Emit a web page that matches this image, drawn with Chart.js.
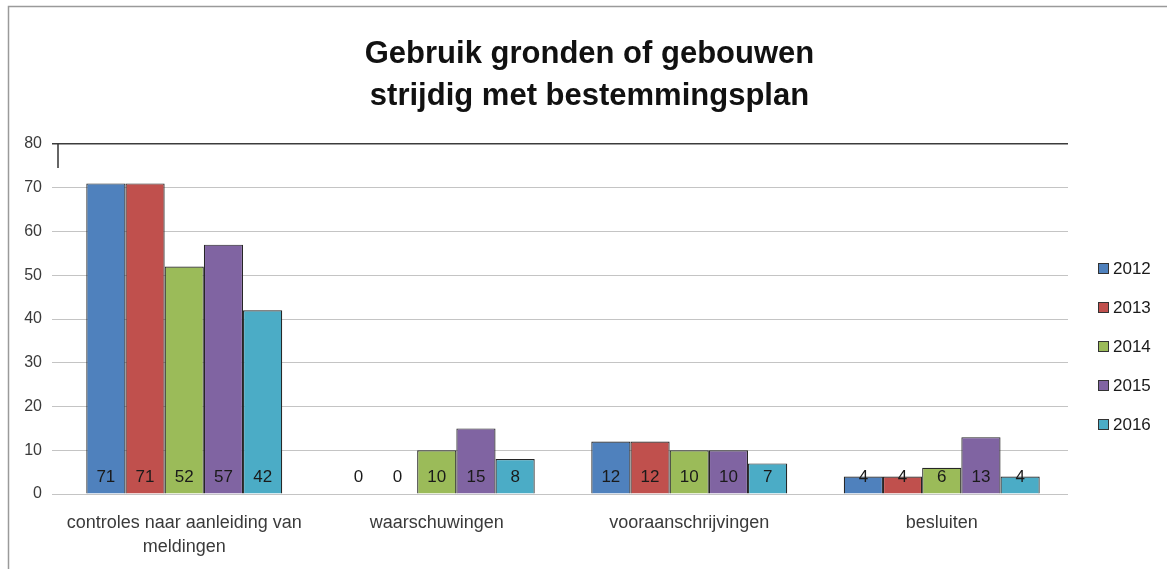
<!DOCTYPE html>
<html>
<head>
<meta charset="utf-8">
<script src="https://cdn.jsdelivr.net/npm/chart.js@4/dist/chart.umd.min.js"></script>
<style>
  html, body { margin: 0; padding: 0; background: #ffffff; }
  #wrap { position: relative; width: 1167px; height: 569px; }
</style>
</head>
<body>
<div id="wrap"><canvas id="c" width="1167" height="569"></canvas></div>
<script>
const titleLines = ['Gebruik gronden of gebouwen', 'strijdig met bestemmingsplan'];
const categories = [['controles naar aanleiding van', 'meldingen'], 'waarschuwingen', 'vooraanschrijvingen', 'besluiten'];
const seriesNames = ['2012', '2013', '2014', '2015', '2016'];
const values2012 = [71, 0, 12, 4];
const values2013 = [71, 0, 12, 4];
const values2014 = [52, 10, 10, 6];
const values2015 = [57, 15, 10, 13];
const values2016 = [42, 8, 7, 4];
const yTicks = [0, 10, 20, 30, 40, 50, 60, 70, 80];
const seriesColors = ['#4F81BD', '#C0504D', '#9BBB59', '#8064A2', '#4BACC6'];

const allValues = [values2012, values2013, values2014, values2015, values2016];

const frame = {
  id: 'frame',
  beforeDraw(chart) {
    const ctx = chart.ctx;
    ctx.save();
    ctx.fillStyle = '#ffffff';
    ctx.fillRect(0, 0, chart.width, chart.height);
    ctx.strokeStyle = '#9a9a9a';
    ctx.lineWidth = 1.5;
    ctx.beginPath();
    ctx.moveTo(8.5, chart.height);
    ctx.lineTo(8.5, 6.5);
    ctx.lineTo(chart.width, 6.5);
    ctx.stroke();
    ctx.restore();
  },
  afterDraw(chart) {
    const ctx = chart.ctx;
    const a = chart.chartArea;
    ctx.save();
    // title
    ctx.fillStyle = '#111111';
    ctx.font = 'bold 31px "Liberation Sans", sans-serif';
    ctx.textAlign = 'center';
    ctx.textBaseline = 'alphabetic';
    const cx = chart.width / 2 + 6;
    ctx.fillText(titleLines[0], cx, 63);
    ctx.fillText(titleLines[1], cx, 105);
    // small axis stub at top-left
    ctx.strokeStyle = '#333333';
    ctx.lineWidth = 1.5;
    ctx.beginPath();
    ctx.moveTo(a.left, a.top);
    ctx.lineTo(a.left, a.top + 24);
    ctx.stroke();
    // legend
    ctx.font = '17px "Liberation Sans", sans-serif';
    ctx.textAlign = 'left';
    ctx.textBaseline = 'middle';
    chart.data.datasets.forEach((ds, i) => {
      const y = 269 + i * 39;
      ctx.fillStyle = ds.backgroundColor;
      ctx.fillRect(1098, y - 6, 11, 11);
      ctx.strokeStyle = '#333333';
      ctx.lineWidth = 1;
      ctx.strokeRect(1098.5, y - 5.5, 10, 10);
      ctx.fillStyle = '#1a1a1a';
      ctx.fillText(ds.label, 1113, y);
    });
    // data labels at inside base
    const yScale = chart.scales.y;
    ctx.font = '17px "Liberation Sans", sans-serif';
    ctx.textAlign = 'center';
    ctx.textBaseline = 'middle';
    ctx.fillStyle = '#1a1a1a';
    chart.data.datasets.forEach((ds, i) => {
      const meta = chart.getDatasetMeta(i);
      meta.data.forEach((bar, j) => {
        ctx.fillText(String(ds.data[j]), bar.x, yScale.bottom - 17);
      });
    });
    ctx.restore();
  }
};

new Chart(document.getElementById('c'), {
  type: 'bar',
  data: {
    labels: categories,
    datasets: seriesNames.map((name, i) => ({
      label: name,
      data: allValues[i],
      backgroundColor: seriesColors[i],
      borderColor: '#262626',
      borderWidth: 1.2,
      categoryPercentage: 0.776,
      barPercentage: 1.0
    }))
  },
  options: {
    responsive: false,
    animation: false,
    devicePixelRatio: 1,
    layout: { padding: { top: 144, left: 10, right: 99, bottom: 0 } },
    plugins: {
      legend: { display: false },
      title: { display: false },
      tooltip: { enabled: false }
    },
    scales: {
      x: {
        grid: { display: false, drawTicks: false },
        border: { display: false },
        ticks: {
          color: '#3a3a3a',
          font: { family: '"Liberation Sans", sans-serif', size: 18, lineHeight: 1.35 },
          padding: 17,
          maxRotation: 0,
          autoSkip: false
        },
        afterFit(scale) { scale.height = 75; }
      },
      y: {
        min: 0,
        max: 80,
        afterBuildTicks(scale) { scale.ticks = yTicks.map(v => ({ value: v })); },
        grid: {
          color: ctx => (ctx.tick && ctx.tick.value === 80) ? '#3c3c3c' : '#c4c4c4',
          lineWidth: ctx => (ctx.tick && ctx.tick.value === 80) ? 1.5 : 1,
          tickLength: 6
        },
        border: { display: false },
        ticks: {
          color: '#3a3a3a',
          font: { family: '"Liberation Sans", sans-serif', size: 16 },
          padding: 10
        },
        afterFit(scale) { scale.width = 48; }
      }
    }
  },
  plugins: [frame]
});
</script>
</body>
</html>
